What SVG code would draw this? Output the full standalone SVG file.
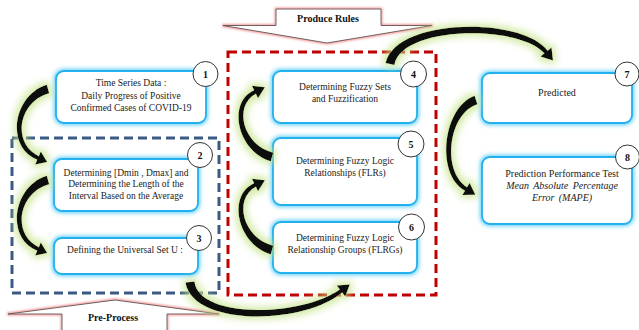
<svg xmlns="http://www.w3.org/2000/svg" width="639" height="330" viewBox="0 0 639 330">
<defs>
<style>
.box{fill:#fff;stroke:#22b0ee;stroke-width:1.8;filter:url(#blueGlow)}
.t{font-family:"Liberation Serif","Times New Roman",serif;font-size:9.5px;fill:#222;text-anchor:middle}
.t8{font-size:10px}
.it{font-style:italic}
.num{fill:#fff;stroke:#333;stroke-width:1}
.nt{font-family:"Liberation Serif","Times New Roman",serif;font-size:10px;font-weight:bold;fill:#111;text-anchor:middle}
.blk{fill:#fff;stroke:#555;stroke-width:0.9;filter:url(#pinkGlow)}
.bt{font-family:"Liberation Serif","Times New Roman",serif;font-size:10px;font-weight:bold;fill:#111;text-anchor:middle}
.arr{fill:#111}
</style>
<filter id="blueGlow" x="-20%" y="-30%" width="140%" height="160%">
<feMorphology in="SourceAlpha" operator="dilate" radius="1" result="d"/>
<feGaussianBlur in="d" stdDeviation="2.2" result="b"/>
<feFlood flood-color="#3cc4f7" flood-opacity="0.85"/>
<feComposite in2="b" operator="in" result="g"/>
<feMerge><feMergeNode in="g"/><feMergeNode in="SourceGraphic"/></feMerge>
</filter>
<filter id="greenGlow" x="-40%" y="-40%" width="180%" height="180%">
<feMorphology in="SourceAlpha" operator="dilate" radius="2.5" result="d"/>
<feGaussianBlur in="d" stdDeviation="3.5" result="b"/>
<feFlood flood-color="#c2e285" flood-opacity="0.7"/>
<feComposite in2="b" operator="in" result="g"/>
<feMerge><feMergeNode in="g"/><feMergeNode in="SourceGraphic"/></feMerge>
</filter>
<filter id="pinkGlow" x="-10%" y="-20%" width="120%" height="140%">
<feMorphology in="SourceAlpha" operator="dilate" radius="0.8" result="d"/>
<feGaussianBlur in="d" stdDeviation="1" result="b"/>
<feFlood flood-color="#f08080" flood-opacity="0.8"/>
<feComposite in2="b" operator="in" result="g"/>
<feMerge><feMergeNode in="g"/><feMergeNode in="SourceGraphic"/></feMerge>
</filter>
<path id="arrA" d="M46.8,84.7 C13,95 5,147 37.2,159.8 L35.2,164.4 L47.2,162 L40.8,151.6 L38.8,156.2 C11,143 19,101 49.2,93.3 Z"/>
<path id="arrD" d="M270.8,161.3 C237,151 227,102 254.1,90.2 L252,85.7 L264.9,87.3 L258,98.3 L255.9,93.8 C233,106 243,145 273.2,152.7 Z"/>
</defs>

<g id="groups">
<rect id="preprocess-box" x="12" y="138" width="207" height="155" fill="none" stroke="#3a5a84" stroke-width="3" stroke-dasharray="9 5"/>
<rect id="produce-rules-box" x="228" y="52" width="208" height="243" fill="none" stroke="#c00000" stroke-width="3" stroke-dasharray="9 5"/>
</g>

<g id="produce-rules">
<polygon class="blk" points="276,9 381,9 381,25.5 432,25.5 327,43 223,25.5 276,25.5"/>
<text class="bt" x="328" y="21.5">Produce Rules</text>
</g>
<g id="pre-process">
<polygon class="blk" points="115,300 219,314 167,314 167,332 62,332 62,314 8,314"/>
<text class="bt" x="113" y="320.5">Pre-Process</text>
</g>

<g id="node1">
<rect class="box" x="56" y="71" width="150" height="52" rx="8"/>
<text class="t" x="131" y="86">Time Series Data :</text>
<text class="t" x="131" y="98.5">Daily Progress of Positive</text>
<text class="t" x="131" y="111">Confirmed Cases of COVID-19</text>
<circle class="num" cx="205.5" cy="74" r="12.5"/>
<text class="nt" x="205.5" y="77.5">1</text>
</g>
<g id="node2">
<rect class="box" x="54" y="159" width="144" height="52" rx="8"/>
<text class="t" x="126" y="175.5">Determining [Dmin , Dmax] and</text>
<text class="t" x="126" y="187">Determining the Length of the</text>
<text class="t" x="126" y="198.5">Interval Based on the Average</text>
<circle class="num" cx="200" cy="155" r="12.5"/>
<text class="nt" x="200" y="158.5">2</text>
</g>
<g id="node3">
<rect class="box" x="54" y="238" width="144" height="36" rx="8"/>
<text class="t" x="125" y="253">Defining the Universal Set U :</text>
<circle class="num" cx="199" cy="238" r="12.5"/>
<text class="nt" x="199" y="241.5">3</text>
</g>
<g id="node4">
<rect class="box" x="273" y="71" width="144" height="52" rx="8"/>
<text class="t" x="345" y="90">Determining Fuzzy Sets</text>
<text class="t" x="345" y="102.3">and Fuzzification</text>
<circle class="num" cx="413.5" cy="74" r="13"/>
<text class="nt" x="413.5" y="77.5">4</text>
</g>
<g id="node5">
<rect class="box" x="273" y="138" width="144" height="67" rx="8"/>
<text class="t" x="345" y="164">Determining Fuzzy Logic</text>
<text class="t" x="345" y="175.5">Relationships (FLRs)</text>
<circle class="num" cx="411" cy="144" r="13"/>
<text class="nt" x="411" y="147.5">5</text>
</g>
<g id="node6">
<rect class="box" x="273" y="222" width="144" height="51" rx="8"/>
<text class="t" x="345" y="241">Determining Fuzzy Logic</text>
<text class="t" x="345" y="252.7">Relationship Groups (FLRGs)</text>
<circle class="num" cx="411.5" cy="227" r="13"/>
<text class="nt" x="411.5" y="230.5">6</text>
</g>
<g id="node7">
<rect class="box" x="482" y="73" width="150" height="50" rx="8"/>
<text class="t t8" x="557" y="96">Predicted</text>
<circle class="num" cx="627" cy="74" r="12"/>
<text class="nt" x="627" y="77.5">7</text>
</g>
<g id="node8">
<rect class="box" x="482" y="157" width="150" height="67" rx="8"/>
<text class="t t8" x="562" y="176.5">Prediction Performance Test</text>
<text class="t t8 it" x="562" y="189" word-spacing="2">Mean Absolute Percentage</text>
<text class="t t8 it" x="562" y="200.5" word-spacing="2">Error (MAPE)</text>
<circle class="num" cx="627.5" cy="157" r="12"/>
<text class="nt" x="627.5" y="160.5">8</text>
</g>

<g id="connectors" filter="url(#greenGlow)">
<use href="#arrA" class="arr"/>
<use href="#arrA" class="arr" transform="translate(0,91)"/>
<use href="#arrD" class="arr"/>
<use href="#arrD" class="arr" transform="translate(0,93)"/>
<path class="arr" d="M185.5,282.5 C192,326 302,326 342.2,292.6 L345.2,296.6 L349.8,284.4 L336.8,285.4 L339.8,289.4 C298,318 198,318 194.5,281.5 Z"/>
<path class="arr" d="M385.6,63.1 C395,18 522,16 547.6,50.7 L551.5,47.6 L553,60.6 L540.5,56.4 L544.4,53.3 C518,24 401,26 394.4,64.9 Z"/>
<path class="arr" d="M474.6,95.7 C443,107 435,174 465,190.7 L462.4,195 L475.4,194.7 L469.6,183 L467,187.3 C441,170 449,113 477.4,104.3 Z"/>
</g>
</svg>
